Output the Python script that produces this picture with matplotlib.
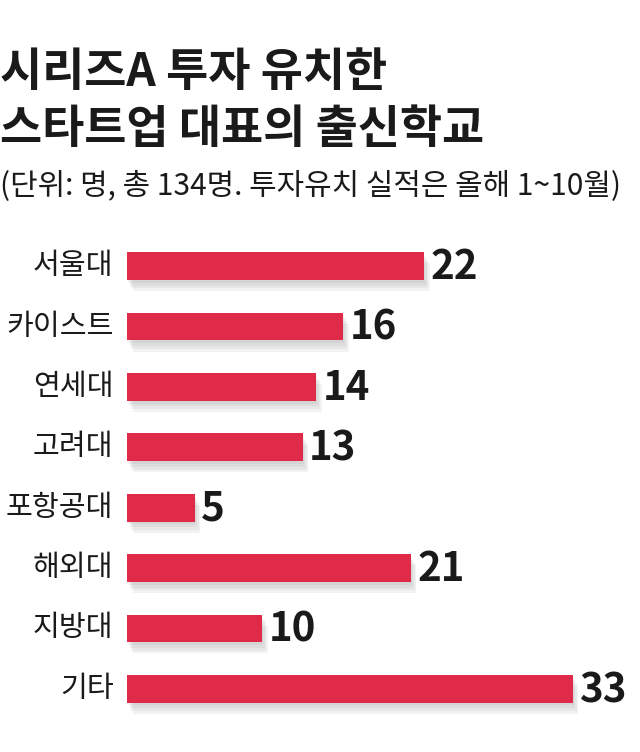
import matplotlib
matplotlib.use('Agg')
import matplotlib.pyplot as plt
import matplotlib.patheffects as pe

plt.rcParams['font.family'] = ['Noto Sans CJK KR', 'DejaVu Sans']

# data
schools = ['서울대', '카이스트', '연세대', '고려대', '포항공대', '해외대', '지방대', '기타']
counts = [22, 16, 14, 13, 5, 21, 10, 33]

title_lines = ['시리즈A 투자 유치한', '스타트업 대표의 출신학교']
subtitle = '(단위: 명, 총 134명. 투자유치 실적은 올해 1~10월)'

bar_color = '#E02A4A'
text_color = '#1a1a1a'

fig = plt.figure(figsize=(6.4, 7.52), dpi=100)
W, H = 640, 752

# axes placed in pixel terms: bar zero at x=127, rows from y=236 to y=719
ax = fig.add_axes([127 / W, 1 - 719 / H, 500 / W, 483 / H])
ax.set_xlim(0, 500 / 13.5)
ax.set_ylim(7.5, -0.5)
ax.axis('off')

# soft shadow under the bars, stacked a few times to fake a blur
shadow = [pe.SimplePatchShadow(offset=(dx, -dy), shadow_rgbFace='#888888', alpha=0.10)
          for dx, dy in [(1, 2), (2, 4), (3, 6), (4, 8)]]

ypos = list(range(len(schools)))
bars = ax.barh(ypos, counts, height=0.46, color=bar_color, zorder=3)
for b in bars:
    b.set_path_effects(shadow + [pe.Normal()])

for y, name, v in zip(ypos, schools, counts):
    ax.text(-1.0, y, name, ha='right', va='center', fontsize=21,
            color=text_color)
    ax.text(v + 0.5, y + 0.03, str(v), ha='left', va='center', fontsize=29,
            fontweight='bold', color=text_color)

fig.text(0 / W, 1 - 73 / H, title_lines[0], ha='left', va='center', fontsize=33,
         fontweight='bold', color=text_color)
fig.text(0 / W, 1 - 130 / H, title_lines[1], ha='left', va='center', fontsize=33,
         fontweight='bold', color=text_color)
fig.text(0 / W, 1 - 187 / H, subtitle, ha='left', va='center', fontsize=21.5,
         color=text_color)

fig.savefig('out.png', dpi=100, facecolor='white')
